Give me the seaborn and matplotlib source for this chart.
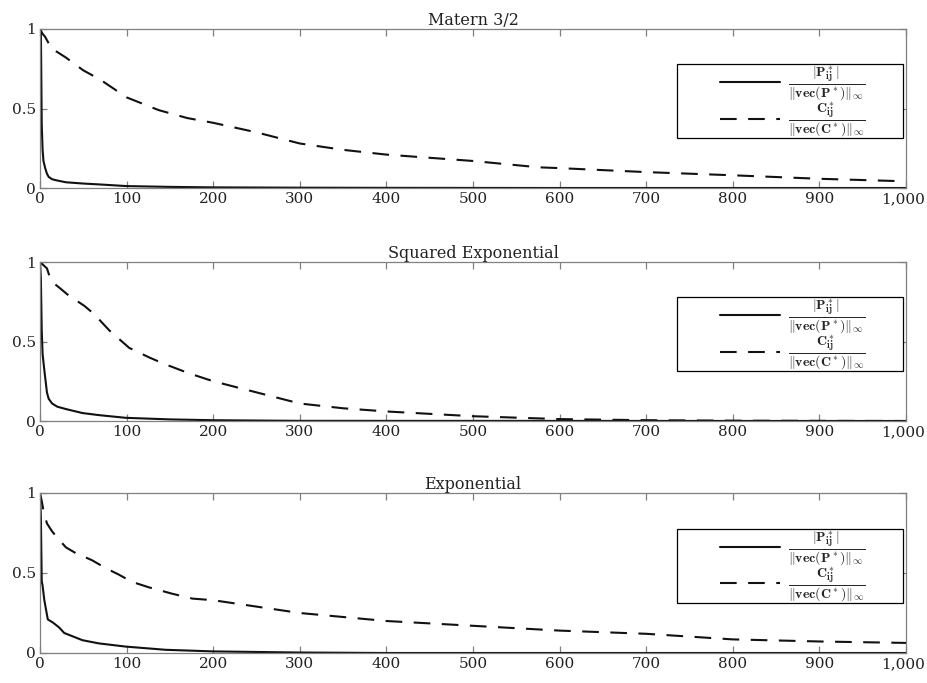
import numpy as np
import pandas as pd
import matplotlib
matplotlib.use("Agg")
import matplotlib.pyplot as plt
import matplotlib.transforms as mtransforms
import seaborn as sns
from matplotlib.legend_handler import HandlerLine2D

# ---------------- data ----------------
titles = ["Matern 3/2", "Squared Exponential", "Exponential"]

label_P = r"$\dfrac{|\mathbf{P}^*_{\mathbf{ij}}|}{\Vert\mathbf{vec}(\mathbf{P}^*)\Vert_\infty}$"
label_C = r"$\dfrac{\mathbf{C}^*_{\mathbf{ij}}}{\Vert\mathbf{vec}(\mathbf{C}^*)\Vert_\infty}$"

x_ticks = [0, 100, 200, 300, 400, 500, 600, 700, 800, 900, 1000]
x_tick_labels = ["0", "100", "200", "300", "400", "500", "600", "700", "800", "900", "1,000"]
y_ticks = [0, 0.5, 1]
y_tick_labels = ["0", "0.5", "1"]

# Matern 3/2
mat_P_x = [0, 1, 2, 3, 4, 6, 8, 10, 14, 20, 30, 50, 70, 100, 150, 200, 300, 400, 600, 1000]
mat_P_y = [1.0, 1.0, 0.4, 0.24, 0.17, 0.125, 0.09, 0.07, 0.055, 0.047, 0.036, 0.028, 0.022, 0.012,
           0.007, 0.004, 0.002, 0.001, 0.0, 0.0]
mat_C_x = [0, 3, 6, 10, 12, 20, 30, 50, 70, 100, 137, 170, 200, 250, 300, 350, 400, 450, 500,
           576, 600, 700, 800, 900, 1000]
mat_C_y = [1.0, 0.97, 0.95, 0.91, 0.88, 0.855, 0.82, 0.74, 0.68, 0.57, 0.49, 0.44, 0.41, 0.35,
           0.28, 0.24, 0.21, 0.19, 0.17, 0.13, 0.125, 0.10, 0.08, 0.058, 0.042]

# Squared Exponential
se_P_x = [0, 1, 2, 3, 5, 8, 10, 14, 20, 30, 49, 68, 99, 150, 200, 300, 1000]
se_P_y = [1.0, 0.9, 0.57, 0.42, 0.32, 0.18, 0.14, 0.11, 0.09, 0.075, 0.05, 0.037, 0.02, 0.01,
          0.005, 0.001, 0.0]
se_C_x = [0, 8, 11, 15, 22, 33, 51, 62, 80, 103, 126, 143, 172, 200, 250, 300, 350, 400, 450,
          500, 600, 700, 800, 1000]
se_C_y = [1.0, 0.96, 0.91, 0.87, 0.84, 0.79, 0.725, 0.675, 0.57, 0.46, 0.40, 0.36, 0.30, 0.25,
          0.18, 0.11, 0.08, 0.06, 0.045, 0.03, 0.012, 0.005, 0.002, 0.0]

# Exponential
ex_P_x = [0, 1, 2, 3, 5, 9, 15, 22, 28, 35, 49, 68, 99, 145, 200, 300, 400, 1000]
ex_P_y = [1.0, 0.85, 0.45, 0.42, 0.33, 0.21, 0.19, 0.16, 0.125, 0.11, 0.08, 0.06, 0.04, 0.02,
          0.01, 0.003, 0.0, 0.0]
ex_C_x = [0, 2, 4, 8, 14, 20, 30, 41, 60, 76, 91, 106, 126, 153, 176, 200, 250, 300, 400, 500,
          600, 700, 800, 900, 1000]
ex_C_y = [1.0, 0.95, 0.89, 0.81, 0.76, 0.72, 0.66, 0.625, 0.58, 0.53, 0.49, 0.445, 0.41, 0.37,
          0.34, 0.33, 0.29, 0.25, 0.20, 0.17, 0.14, 0.12, 0.085, 0.072, 0.063]

panels = [
    (mat_P_x, mat_P_y, mat_C_x, mat_C_y),
    (se_P_x, se_P_y, se_C_x, se_C_y),
    (ex_P_x, ex_P_y, ex_C_x, ex_C_y),
]

# ---------------- style ----------------
sns.set_theme(style="white")
plt.rcParams["font.family"] = ["DejaVu Serif"]
plt.rcParams["mathtext.fontset"] = "cm"

frame_col = "#808080"
line_col = "#111111"


class RightLine(HandlerLine2D):
    """Draw the legend line only in the right part of the handle box."""
    def __init__(self, frac=0.41, **kw):
        super().__init__(**kw)
        self.frac = frac

    def create_artists(self, legend, orig_handle, xdescent, ydescent, width, height,
                       fontsize, trans):
        shift = self.frac * width
        return super().create_artists(legend, orig_handle, xdescent - shift, ydescent,
                                      width - shift, height, fontsize, trans)


fig = plt.figure(figsize=(9.27, 6.83), dpi=100)
W, H = 927, 683
ax_left, ax_right = 40, 906
panel_px = [(29, 188), (262, 421), (493, 653)]

for (px_top, px_bot), title, (Px, Py, Cx, Cy) in zip(panel_px, titles, panels):
    ax = fig.add_axes([ax_left / W, 1 - px_bot / H, (ax_right - ax_left) / W, (px_bot - px_top) / H])
    df = pd.concat([
        pd.DataFrame({"x": Px, "y": Py, "series": label_P}),
        pd.DataFrame({"x": Cx, "y": Cy, "series": label_C}),
    ], ignore_index=True)
    sns.lineplot(data=df, x="x", y="y", style="series", hue="series",
                 palette={label_P: line_col, label_C: line_col},
                 dashes={label_P: "", label_C: (8, 5.5)},
                 estimator=None, sort=False, linewidth=1.5, ax=ax)

    ax.set_xlim(0, 1000)
    ax.set_ylim(0, 1)
    ax.set_xticks(x_ticks)
    ax.set_xticklabels(x_tick_labels)
    ax.set_yticks(y_ticks)
    ax.set_yticklabels(y_tick_labels)
    ax.set_xlabel("")
    ax.set_ylabel("")
    ax.set_title(title, fontsize=11.5, pad=3, color="#222222")
    for sp in ax.spines.values():
        sp.set_color(frame_col)
        sp.set_linewidth(0.9)
        sp.set_visible(True)
    ax.tick_params(axis="both", which="both", direction="in", length=5, width=0.9,
                   color=frame_col, labelsize=11, labelcolor="#222222",
                   top=True, right=True, bottom=True, left=True, pad=3)
    # nudge the last x label so it stays inside the figure
    last = ax.get_xticklabels()[-1]
    last.set_transform(last.get_transform() +
                       mtransforms.ScaledTranslation(-3 / 100, 0, fig.dpi_scale_trans))

    handles, labels = ax.get_legend_handles_labels()
    leg = ax.legend(handles, labels, loc="center", bbox_to_anchor=(0.7356, 0.045, 0.261, 1.0),
                    mode="expand", fontsize=10, frameon=True, fancybox=False,
                    edgecolor="black", framealpha=1, borderpad=0.0, borderaxespad=0,
                    handlelength=7.4, handletextpad=0.6, labelspacing=-0.12,
                    handler_map={h: RightLine(frac=0.42) for h in handles})
    leg.get_frame().set_linewidth(0.9)

fig.savefig("out.png", dpi=100)
